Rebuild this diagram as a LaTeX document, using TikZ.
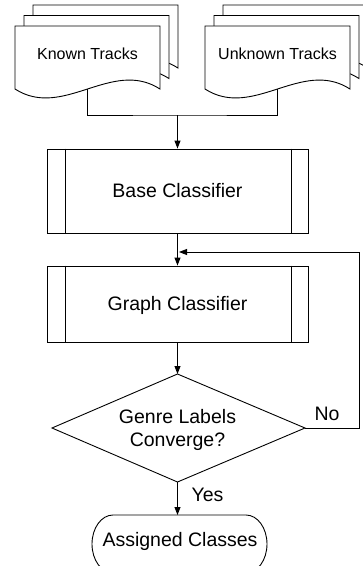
\documentclass[tikz,border=0pt]{standalone}
\usepackage{fontspec}
\setmainfont{Liberation Sans}
\usetikzlibrary{arrows.meta}
\tikzset{
  ln/.style={line width=0.9pt, black},
  arr/.style={ln, -{Triangle[length=8pt,width=6pt]}},
  docpage/.style={ln, fill=white},
  box/.style={ln, rectangle, minimum width=261pt, inner sep=0pt},
  doctext/.style={font=\fontsize{16}{18}\selectfont, anchor=base, inner sep=0pt},
  bigtext/.style={font=\fontsize{19.5}{23}\selectfont, anchor=base, inner sep=0pt},
}
\begin{document}
\begin{tikzpicture}[x=1pt,y=-1pt]
\useasboundingbox (0,0) rectangle (363,566);
% Known Tracks stack
\draw[docpage] (33,5) -- (178,5) -- (178,68) .. controls (129.7,37) and (81.3,99) .. (33,68) -- cycle;
\draw[docpage] (24,15.5) -- (169,15.5) -- (169,78.5) .. controls (120.7,47.5) and (72.3,109.5) .. (24,78.5) -- cycle;
\draw[docpage] (15,26) -- (160,26) -- (160,89) .. controls (111.7,58) and (63.3,120) .. (15,89) -- cycle;
\node[doctext] (known) at (87.5,59.5) {Known Tracks};
% Unknown Tracks stack
\draw[docpage] (223,5) -- (368,5) -- (368,68) .. controls (319.7,37) and (271.3,99) .. (223,68) -- cycle;
\draw[docpage] (214,15.5) -- (359,15.5) -- (359,78.5) .. controls (310.7,47.5) and (262.3,109.5) .. (214,78.5) -- cycle;
\draw[docpage] (205,26) -- (350,26) -- (350,89) .. controls (301.7,58) and (253.3,120) .. (205,89) -- cycle;
\node[doctext] (unknown) at (277.5,59.5) {Unknown Tracks};
\coordinate (kt) at (87.7,89);
\coordinate (ut) at (277.5,89);
\coordinate (junction) at (177.5,115);
% Process boxes
\node[box, draw, minimum height=84pt] (base) at (177.5,191) {};
\draw[ln] ([xshift=18.5pt]base.north west) -- ([xshift=18.5pt]base.south west);
\draw[ln] ([xshift=-17pt]base.north east) -- ([xshift=-17pt]base.south east);
\node[bigtext] (basetext) at (177.5,197.3) {Base Classifier};
\node[box, draw, minimum height=76pt] (graph) at (177.5,304) {};
\draw[ln] ([xshift=18.5pt]graph.north west) -- ([xshift=18.5pt]graph.south west);
\draw[ln] ([xshift=-17pt]graph.north east) -- ([xshift=-17pt]graph.south east);
\node[bigtext] (graphtext) at (177.5,310.7) {Graph Classifier};
% Decision
\coordinate (dtop) at (177.5,374);
\coordinate (dright) at (305,428);
\coordinate (dbottom) at (177.5,482);
\coordinate (dleft) at (52,428);
\draw[ln] (dtop) -- (dright) -- (dbottom) -- (dleft) -- cycle;
\node[bigtext] (genre) at (177.5,423) {Genre Labels};
\node[bigtext] (conv) at (177.5,446) {Converge?};
% Terminal (bottom runs off the page, as in the reference)
\draw[ln] (113,515) -- (246,515) arc[start angle=-90, end angle=90, x radius=21, y radius=29]
  -- (113,573) arc[start angle=90, end angle=270, x radius=21, y radius=29] -- cycle;
\coordinate (termtop) at (177.5,515);
\node[bigtext] (assigned) at (180,546.7) {Assigned Classes};
% Connectors
\draw[ln] (kt) |- (junction) -| (ut);
\draw[arr] (junction) -- (base.north);
\draw[arr] (base.south) -- (graph.north);
\draw[arr] (graph.south) -- (dtop);
\coordinate (fb1) at (359,428);
\coordinate (fb2) at (359,252);
\coordinate (fbin) at (179,252);
\draw[arr] (dright) -- (fb1) -- (fb2) -- (fbin);
\draw[arr] (dbottom) -- (termtop);
\node[bigtext] (yes) at (207.5,501.7) {Yes};
\node[bigtext] (no) at (327,420) {No};
\end{tikzpicture}
\end{document}
